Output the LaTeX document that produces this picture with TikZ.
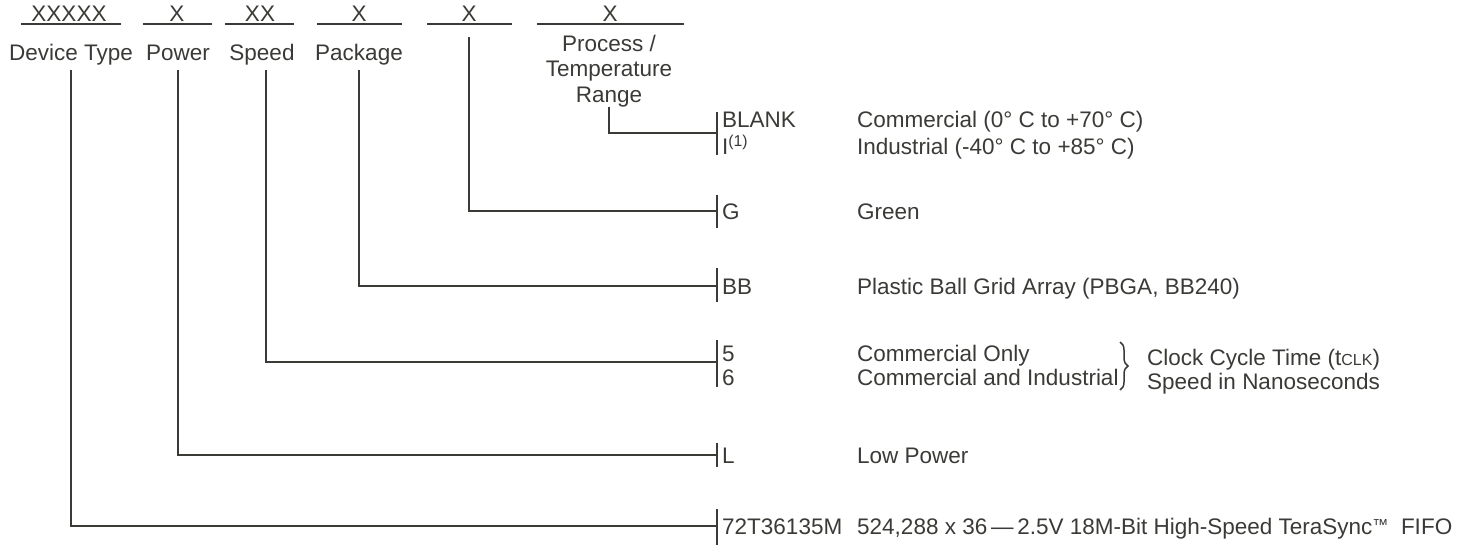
\documentclass[tikz,border=0pt]{standalone}
\usepackage{fontspec}
\setmainfont{Liberation Sans}
\usetikzlibrary{decorations.pathreplacing}
\definecolor{ink}{HTML}{3A3A36}
\newcommand{\dgfont}{\fontsize{22.5}{25.5}\selectfont}
\newcommand{\clkfont}{\fontsize{16}{18}\selectfont}

\begin{document}
\begin{tikzpicture}[x=1pt,y=-1pt,
    ln/.style={draw=ink, line width=2.2pt},
    txt/.style={font=\dgfont, text=ink, inner sep=0pt},
    hd/.style={txt, anchor=base},
    lbl/.style={txt, anchor=base, text height=16pt, text depth=5pt, inner ysep=4pt},
    code/.style={txt, anchor=base west}]
    \useasboundingbox (0,0) rectangle (1459,551);
    % part number fields
    \node[hd] (fDev) at (69,22) {XXXXX};
    \node[hd] (fPwr) at (177,22) {X};
    \node[hd] (fSpd) at (260,22) {XX};
    \node[hd] (fPkg) at (359,22) {X};
    \node[hd] (fGrn) at (469,22) {X};
    \node[hd] (fProc) at (610,22) {X};
    \draw[ln] (21,24) -- (121,24);
    \draw[ln] (143,24) -- (212,24);
    \draw[ln] (225,24) -- (294,24);
    \draw[ln] (317,24) -- (402,24);
    \draw[ln] (427,24) -- (512,24);
    \draw[ln] (537,24) -- (684,24);
    % field names
    \node[lbl] (lDev) at (71,61) {Device Type};
    \node[lbl] (lPwr) at (178,61) {Power};
    \node[lbl] (lSpd) at (262,61) {Speed};
    \node[lbl] (lPkg) at (359,61) {Package};
    \node[txt, align=center, anchor=south] (lProc) at (609,107) {Process /\\Temperature\\Range};
    % ticks
    \coordinate (tProc) at (717,133);
    \coordinate (tGrn) at (717,211);
    \coordinate (tPkg) at (717,286);
    \coordinate (tSpd) at (717,362);
    \coordinate (tPwr) at (717,455);
    \coordinate (tDev) at (717,526);
    \draw[ln] ([yshift=21pt]tProc) -- ([yshift=-22pt]tProc);
    \draw[ln] ([yshift=16pt]tGrn) -- ([yshift=-17pt]tGrn);
    \draw[ln] ([yshift=18pt]tPkg) -- ([yshift=-16pt]tPkg);
    \draw[ln] ([yshift=22pt]tSpd) -- ([yshift=-25pt]tSpd);
    \draw[ln] ([yshift=12pt]tPwr) -- ([yshift=-12pt]tPwr);
    \draw[ln] ([yshift=17pt]tDev) -- ([yshift=-19pt]tDev);
    % connectors
    \draw[ln] (lDev.south) |- (tDev);
    \draw[ln] (lPwr.south) |- (tPwr);
    \draw[ln] ([xshift=4pt]lSpd.south) |- (tSpd);
    \draw[ln] (lPkg.south) |- (tPkg);
    \draw[ln, shorten <=15pt] (fGrn.south) |- (tGrn);
    \draw[ln] (lProc.south) |- (tProc);
    % codes
    \node[code] (cBlank) at (722,127) {BLANK};
    \node[code] (cInd) at (722,154) {I\textsuperscript{(1)}};
    \node[code] (cG) at (722,219) {G};
    \node[code] (cBB) at (722,294) {BB};
    \node[code] (c5) at (722,361) {5};
    \node[code] (c6) at (722,385) {6};
    \node[code] (cL) at (722,463) {L};
    \node[code] (c72) at (722,534) {72T36135M};
    % descriptions
    \node[code] (dCom) at (857,127) {Commercial (0° C to +70° C)};
    \node[code] (dInd) at (857,154) {Industrial (-40° C to +85° C)};
    \node[code] (dGrn) at (857,219) {Green};
    \node[code] (dPkg) at (857,294) {Plastic Ball Grid Array (PBGA, BB240)};
    \node[code] (dCom5) at (857,361) {Commercial Only};
    \node[code] (dCom6) at (857,385) {Commercial and Industrial};
    \node[code] (dLow) at (857,463) {Low Power};
    \node[code] (dDev) at (857,534) {524,288 x 36\,—\,2.5V 18M-Bit High-Speed TeraSync\raisebox{4pt}{\clkfont ™}\ \ FIFO};
    \draw[draw=ink, line width=1.5pt, decorate, decoration={brace, amplitude=8pt}] (1120,342) -- (1120,390);
    \node[code] (dClk) at (1147,365) {Clock Cycle Time (t{\clkfont CLK})};
    \node[code] (dNs) at (1147,389) {Speed in Nanoseconds};
\end{tikzpicture}
\end{document}
